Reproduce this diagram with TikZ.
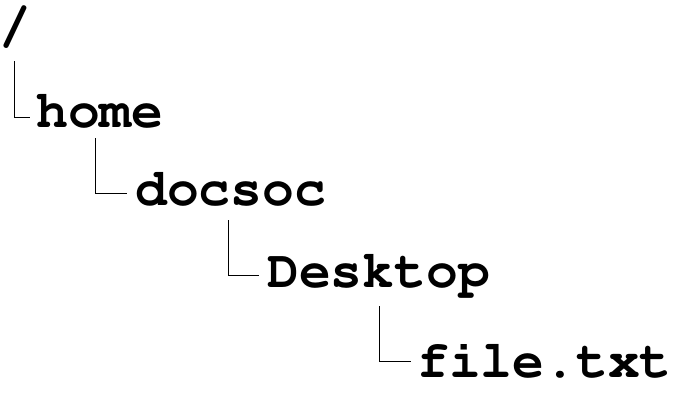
\documentclass[tikz,border=0pt]{standalone}
\usepackage[T1]{fontenc}
\usetikzlibrary{calc}
\begin{document}
\begin{tikzpicture}[x=1pt,y=-1pt,
  lbl/.style={anchor=base west,inner sep=0pt,font=\fontsize{53}{53}\fontfamily{pcr}\fontseries{b}\selectfont},
  conn/.style={draw=black,line width=1pt}]
\useasboundingbox[fill=white] (0,0) rectangle (700,400);
\node[lbl] (root) at (-1,42) {/};
\node[lbl] (home) at (36,127) {home};
\node[lbl] (docsoc) at (135,205) {docsoc};
\node[lbl] (desktop) at (267,287) {Desktop};
\node[lbl] (file) at (417,377) {file.txt};
\coordinate (c1) at (14.3,61);
\coordinate (c2) at (95.7,138);
\coordinate (c3) at (228.3,220);
\coordinate (c4) at (379.3,306);
\draw[conn] (c1) |- ($(home.base west)+(-6,-10)$);
\draw[conn] (c2) |- ($(docsoc.base west)+(-8,-12)$);
\draw[conn] (c3) |- ($(desktop.base west)+(-8,-12)$);
\draw[conn] (c4) |- ($(file.base west)+(-6,-16)$);
\end{tikzpicture}
\end{document}
